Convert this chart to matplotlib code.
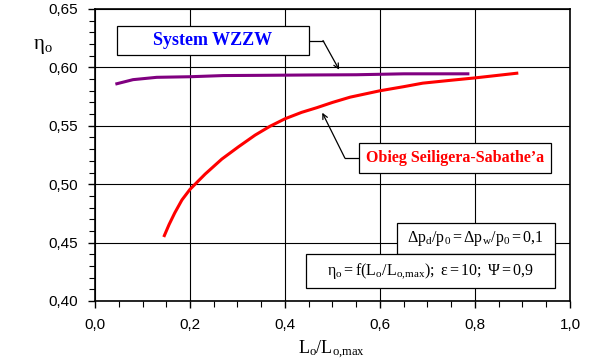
import matplotlib
matplotlib.use("Agg")
import matplotlib.pyplot as plt
from matplotlib.patches import Rectangle
from matplotlib.ticker import MultipleLocator, FuncFormatter

# data
wzzw_x = [0.046, 0.08, 0.13, 0.20, 0.27, 0.35, 0.45, 0.55, 0.65, 0.785]
wzzw_y = [0.586, 0.5895, 0.5915, 0.592, 0.593, 0.5932, 0.5935, 0.5937, 0.5945, 0.5945]

ss_x = [0.146, 0.156, 0.168, 0.183, 0.20, 0.232, 0.267, 0.302, 0.337, 0.368,
        0.40, 0.435, 0.467, 0.50, 0.537, 0.60, 0.65, 0.69, 0.75, 0.80, 0.888]
ss_y = [0.456, 0.4655, 0.4755, 0.4865, 0.4956, 0.5087, 0.5215, 0.532, 0.542, 0.5495,
        0.556, 0.5615, 0.5655, 0.570, 0.5745, 0.580, 0.5835, 0.5865, 0.589, 0.591, 0.595]

label_wzzw = "System WZZW"
label_ss = "Obieg Seiligera-Sabathe\u2019a"

plt.rcParams["mathtext.fontset"] = "custom"
plt.rcParams["mathtext.rm"] = "Liberation Serif"
plt.rcParams["mathtext.it"] = "Liberation Serif:italic"
plt.rcParams["mathtext.bf"] = "Liberation Serif:bold"

fig = plt.figure(figsize=(5.89, 3.64), dpi=100)
ax = fig.add_axes([0.1613, 0.1731, 0.8064, 0.8022])

ax.plot(wzzw_x, wzzw_y, color="#800080", lw=2.2, zorder=3, solid_joinstyle="round")
ax.plot(ss_x, ss_y, color="#ff0000", lw=2.2, zorder=3, solid_joinstyle="round")

ax.set_xlim(0, 1.0)
ax.set_ylim(0.40, 0.65)
ax.xaxis.set_major_locator(MultipleLocator(0.2))
ax.xaxis.set_minor_locator(MultipleLocator(0.05))
ax.yaxis.set_major_locator(MultipleLocator(0.05))
ax.yaxis.set_minor_locator(MultipleLocator(0.01))
ax.xaxis.set_major_formatter(FuncFormatter(lambda v, p: f"{v:.1f}".replace(".", ",")))
ax.yaxis.set_major_formatter(FuncFormatter(lambda v, p: f"{v:.2f}".replace(".", ",")))
ax.grid(True, which="major", color="black", lw=0.8)
ax.tick_params(which="major", direction="out", length=5, width=1, pad=7)
ax.tick_params(which="minor", direction="out", length=4, width=0.8)
for lab in ax.get_xticklabels() + ax.get_yticklabels():
    lab.set_fontfamily("Liberation Sans")
    lab.set_fontsize(11)
for sp in ax.spines.values():
    sp.set_linewidth(1.2)

# axis labels
fig.text(0.073, 0.875, r"$\mathrm{\eta_o}$", fontsize=15, ha="center", va="center")
fig.text(0.563, 0.04, r"$\mathrm{L_o/L_{o{,}max}}$", fontsize=13, ha="center", va="center")


def box(x0, y0, x1, y1, text, **kw):
    ax.add_patch(Rectangle((x0, y0), x1 - x0, y1 - y0, facecolor="white",
                           edgecolor="black", lw=0.9, zorder=5))
    ax.text((x0 + x1) / 2, (y0 + y1) / 2, text, ha="center", va="center",
            zorder=6, **kw)


# series labels with leader lines
box(0.046, 0.611, 0.45, 0.6357, label_wzzw, fontfamily="Liberation Serif",
    fontweight="bold", fontsize=13, color="#0000ff")
ax.plot([0.45, 0.48], [0.623, 0.623], color="black", lw=0.9, zorder=4)
ax.annotate("", xy=(0.514, 0.598), xytext=(0.48, 0.623),
            arrowprops=dict(arrowstyle="->", color="black", lw=0.9,
                            mutation_scale=9, shrinkA=0, shrinkB=0), zorder=4)

box(0.556, 0.510, 0.959, 0.535, label_ss, fontfamily="Liberation Serif",
    fontweight="bold", fontsize=11.5, color="#ff0000")
ax.plot([0.556, 0.526], [0.5224, 0.5224], color="black", lw=0.9, zorder=4)
ax.annotate("", xy=(0.4785, 0.5612), xytext=(0.526, 0.5224),
            arrowprops=dict(arrowstyle="->", color="black", lw=0.9,
                            mutation_scale=9, shrinkA=0, shrinkB=0), zorder=4)

# parameter boxes
box(0.635, 0.440, 0.968, 0.4665,
    r"$\mathrm{\Delta p_d/p_0 = \Delta p_w/p_0 = 0{,}1}$", fontsize=11.5)
box(0.444, 0.4115, 0.968, 0.440,
    r"$\mathrm{\eta_o = f(L_o/L_{o{,}max}){;}\ \varepsilon = 10{;}\ \Psi = 0{,}9}$",
    fontsize=11.5)

fig.savefig("out.png", dpi=100)
